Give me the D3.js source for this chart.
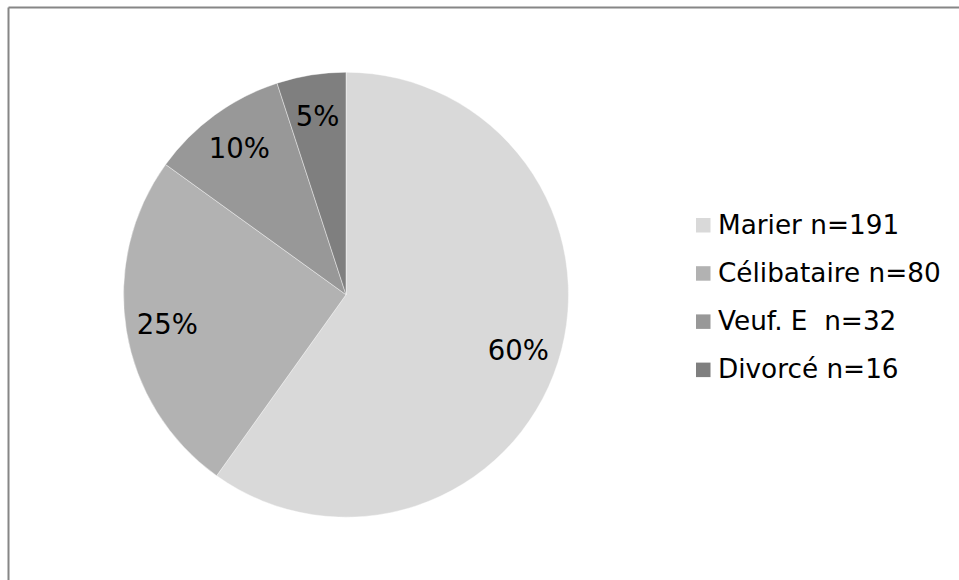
<!DOCTYPE html>
<html>
<head>
<meta charset="utf-8">
<script src="https://cdn.jsdelivr.net/npm/d3@7"></script>
<style>
  html, body { margin: 0; padding: 0; background: #fff; }
  svg { display: block; font-family: "DejaVu Sans", Verdana, sans-serif; }
</style>
</head>
<body>
<svg id="chart" width="959" height="580"></svg>
<script>
// Situation matrimoniale
const categories = ["Marier", "Célibataire", "Veuf. E ", "Divorcé"];
const counts = [191, 80, 32, 16];
const legendLabels = ["Marier n=191", "Célibataire n=80", "Veuf. E  n=32", "Divorcé n=16"];
const colors = ["#d9d9d9", "#b2b2b2", "#989898", "#7f7f7f"];

const svg = d3.select("#chart");
const W = 959, H = 580;

// chart frame (top and left edges visible)
svg.append("line").attr("x1", 8.5).attr("y1", 7.5).attr("x2", W).attr("y2", 7.5)
  .attr("stroke", "#868686").attr("stroke-width", 2);
svg.append("line").attr("x1", 8.5).attr("y1", 7.5).attr("x2", 8.5).attr("y2", H)
  .attr("stroke", "#868686").attr("stroke-width", 2);

const cx = 346, cy = 294.7, r = 222.5;
const total = d3.sum(counts);
const data = categories.map((c, i) => ({ cat: c, n: counts[i], color: colors[i] }));

const pie = d3.pie().value(d => d.n).sort(null);
const arcs = pie(data);
const arc = d3.arc().innerRadius(0).outerRadius(r);
const labelArc = d3.arc().innerRadius(181).outerRadius(181);

const g = svg.append("g").attr("transform", `translate(${cx},${cy})`);

g.selectAll("path.slice").data(arcs).join("path")
  .attr("class", "slice")
  .attr("d", arc)
  .attr("fill", d => d.data.color)
  .attr("stroke", "#ffffff")
  .attr("stroke-width", 0.6)
  .attr("stroke-opacity", 0.7);

const fmt = d3.format(".0%");
g.selectAll("text.pct").data(arcs).join("text")
  .attr("class", "pct")
  .attr("transform", d => `translate(${labelArc.centroid(d)})`)
  .attr("text-anchor", "middle")
  .attr("dy", "0.36em")
  .attr("font-size", 27.5)
  .attr("fill", "#000")
  .text(d => fmt(d.data.n / total));

// legend
const legend = svg.append("g").attr("transform", "translate(696,218)");
const rowStep = 48.2;
const rows = legend.selectAll("g.row").data(data).join("g")
  .attr("class", "row")
  .attr("transform", (d, i) => `translate(0,${i * rowStep})`);
rows.append("rect")
  .attr("x", 0).attr("y", 0).attr("width", 14.5).attr("height", 14.5)
  .attr("fill", d => d.color);
rows.append("text")
  .attr("x", 22).attr("y", 15.5)
  .attr("font-size", 26.3)
  .attr("fill", "#000")
  .attr("xml:space", "preserve")
  .style("white-space", "pre")
  .text((d, i) => legendLabels[i]);
</script>
</body>
</html>
